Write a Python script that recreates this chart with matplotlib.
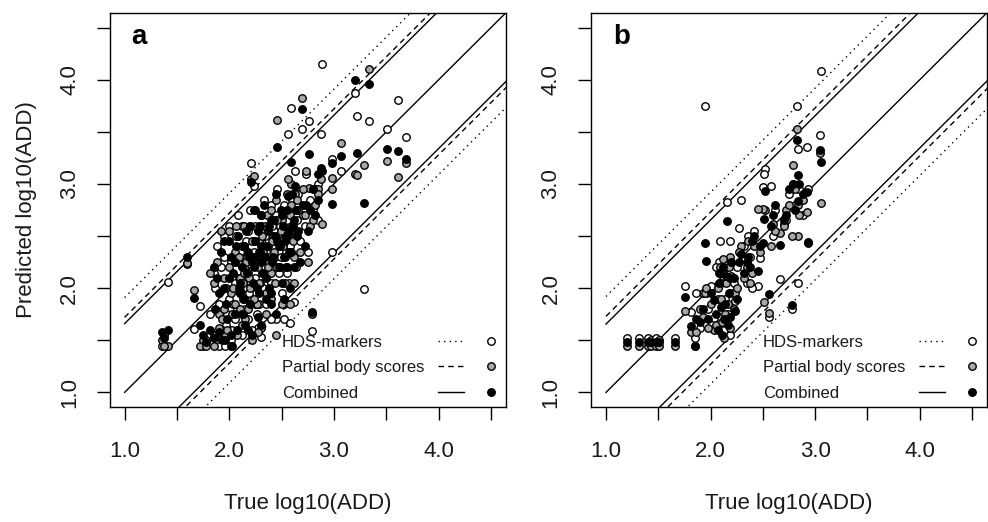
import numpy as np
import matplotlib
matplotlib.use("Agg")
import matplotlib.pyplot as plt

plt.rcParams['font.family'] = ['Liberation Sans', 'DejaVu Sans']

# ---- data: panel a (true, HDS-markers, partial body scores, combined) ----
a_true = [2.89, 2.88, 2.98, 2.98, 3.07, 3.20, 3.22, 3.29, 3.33, 3.51, 3.61, 3.69, 2.79, 2.85,
          2.69, 2.585, 2.46, 2.76, 2.56, 2.21, 2.24, 2.63, 2.73,
          1.41, 1.60, 1.36, 1.38, 1.66, 1.72, 1.75, 1.78, 1.85, 1.90, 1.96, 2.02,
          2.45, 2.52, 2.58, 2.62, 2.30, 2.27, 2.40,
          1.85, 1.88, 1.90, 1.92, 1.95, 1.97, 2.00, 2.00, 2.02, 2.05, 2.05, 2.08, 2.10, 2.10,
          2.12, 2.14, 2.15, 2.17, 2.18, 2.20, 2.20, 2.22, 2.23, 2.25, 2.25, 2.27, 2.28, 2.30,
          2.30, 2.32, 2.33, 2.35, 2.36, 2.38, 2.40, 2.40, 2.42, 2.44, 2.45, 2.47, 2.48, 2.50,
          2.50, 2.52, 2.53, 2.55, 2.57, 2.58, 2.60, 2.62, 2.64, 2.66, 2.68, 2.70, 2.72, 2.75,
          2.77, 2.80, 2.82, 2.85, 1.82, 1.86, 1.93, 1.98, 2.03, 2.07, 2.12, 2.18, 2.22, 2.13,
          2.26, 2.35, 2.16, 2.28, 2.38, 2.43, 2.06, 1.95, 2.55, 2.65,
          2.09, 2.19, 2.24, 2.31, 2.37, 2.41, 2.46, 2.51, 2.54, 2.59, 2.04, 2.14, 2.29, 2.34,
          2.49, 2.61]
a_hds = [4.15, 3.48, 3.24, 2.35, 3.12, 3.87, 3.65, 1.99, 3.60, 3.53, 3.81, 3.45, 1.59, 3.00,
         3.53, 3.725, 2.95, 3.60, 3.48, 3.20, 2.98, 3.12, 3.10,
         2.06, 2.23, 1.45, 1.55, 1.61, 1.83, 1.45, 1.50, 1.55, 1.45, 1.45, 1.50,
         1.70, 1.70, 1.67, 1.87, 1.53, 1.62, 1.70,
         2.15, 2.40, 1.85, 2.20, 2.30, 1.65, 2.60, 1.90, 2.25, 1.70, 2.05, 2.70, 2.35, 1.95,
         2.60, 2.20, 1.80, 2.00, 2.55, 2.30, 2.75, 1.90, 2.45, 2.10, 2.60, 2.25, 1.85, 2.70,
         2.45, 2.00, 2.85, 2.35, 2.15, 2.55, 2.05, 2.80, 2.45, 2.30, 2.70, 2.15, 2.60, 1.95,
         2.45, 2.80, 2.30, 2.65, 2.05, 2.40, 2.85, 2.55, 2.20, 2.90, 2.45, 2.70, 2.60, 2.35,
         2.85, 2.75, 2.95, 2.65, 1.75, 2.00, 1.60, 1.75, 1.60, 1.80, 1.55, 1.70, 1.60, 1.90,
         1.75, 1.85, 2.45, 2.60, 2.15, 2.55, 2.50, 2.50, 2.15, 2.65,
         2.10, 1.95, 2.35, 2.15, 2.40, 2.60, 2.20, 2.70, 2.35, 2.55, 1.85, 2.40, 2.05, 2.50,
         2.30, 2.75]
a_pbs = [2.62, 3.05, 3.06, 2.95, 3.39, 3.10, 3.09, 3.18, 4.10, 3.22, 3.07, 3.20, 1.75, 2.95,
         3.82, 3.00, 3.61, 2.96, 3.05, 3.05, 3.08, 2.90, 3.12,
         1.45, 2.24, 1.50, 1.45, 1.98, 1.45, 1.50, 1.45, 1.45, 1.62, 1.55, 1.45,
         1.55, 1.85, 1.85, 2.05, 1.62, 1.58, 1.90,
         2.05, 2.25, 1.75, 2.55, 1.80, 2.00, 2.55, 2.20, 1.95, 1.85, 2.35, 2.25, 2.10, 1.80,
         2.40, 2.60, 1.70, 2.30, 2.15, 2.00, 2.60, 2.45, 2.30, 1.85, 2.75, 2.20, 2.05, 2.40,
         2.60, 2.35, 2.55, 1.95, 2.70, 2.30, 2.15, 2.75, 2.50, 2.05, 2.85, 2.40, 2.20, 1.85,
         2.65, 2.55, 2.05, 2.90, 2.35, 2.70, 2.60, 2.30, 2.50, 2.75, 2.35, 2.95, 2.70, 2.25,
         2.60, 2.65, 2.80, 2.90, 2.15, 1.55, 1.70, 1.60, 1.75, 1.55, 1.65, 1.80, 1.50, 2.05,
         1.85, 1.75, 2.25, 2.45, 2.25, 2.35, 2.60, 2.10, 2.50, 2.85,
         2.30, 2.10, 1.90, 2.50, 2.20, 2.45, 2.65, 2.40, 2.20, 2.80, 2.00, 2.15, 2.35, 2.60,
         2.55, 2.45]
a_comb = [3.12, 3.15, 3.20, 2.81, 3.27, 4.00, 3.30, 2.82, 3.96, 3.34, 3.32, 3.24, 1.77, 3.10,
          3.72, 3.21, 3.35, 3.29, 2.88, 3.02, 2.75, 2.98, 2.80,
          1.60, 2.30, 1.58, 1.52, 1.91, 1.65, 1.55, 1.48, 1.52, 1.58, 1.50, 1.55,
          1.75, 1.90, 2.00, 2.20, 1.65, 1.72, 1.85,
          2.20, 2.10, 1.95, 2.35, 2.00, 1.85, 2.45, 2.10, 2.30, 1.75, 2.25, 2.50, 1.95, 2.05,
          2.20, 2.40, 1.65, 2.15, 2.35, 1.85, 2.60, 2.25, 2.05, 2.30, 2.45, 2.55, 1.95, 2.25,
          2.70, 2.15, 2.80, 2.10, 2.40, 2.60, 1.95, 2.65, 2.30, 2.50, 2.90, 2.20, 2.40, 2.05,
          2.70, 2.30, 2.45, 2.75, 2.55, 2.35, 2.90, 2.65, 2.75, 2.55, 2.25, 2.80, 2.40, 2.55,
          2.75, 2.95, 2.70, 2.85, 1.60, 1.80, 1.50, 1.70, 1.45, 1.60, 1.75, 1.60, 1.55, 1.75,
          2.00, 1.90, 2.55, 2.35, 2.00, 2.65, 2.40, 2.45, 2.20, 2.50,
          2.00, 2.30, 2.20, 2.40, 2.55, 2.25, 2.45, 2.60, 2.50, 2.35, 2.15, 1.90, 2.60, 2.30,
          2.75, 2.60]

# ---- data: panel b ----
b_true = [1.20, 1.32, 1.40, 1.43, 1.48, 1.51, 1.66, 1.85,
          1.95, 1.96, 3.06, 3.05, 2.825, 2.835, 2.92, 2.52, 2.51, 2.50, 2.58, 2.29, 2.27,
          2.16, 2.09, 2.19, 2.47, 2.45, 2.66, 2.84, 1.76, 2.56, 2.78, 2.03, 1.81, 2.79,
          2.70, 2.93, 2.85, 2.81,
          2.08, 2.10, 2.12, 2.14, 2.15, 2.17, 2.18, 2.20, 2.22, 2.23, 2.25, 2.05, 2.07, 2.11,
          2.13, 2.19, 1.98, 1.93, 1.90, 2.00, 2.35, 2.38, 2.40, 2.42, 2.36, 2.32, 2.60, 2.62,
          2.72, 2.75, 2.88, 1.86]
b_hds = [1.52, 1.52, 1.52, 1.50, 1.52, 1.50, 1.52, 1.52,
         3.75, 1.95, 4.08, 3.47, 3.75, 3.34, 3.35, 3.14, 3.10, 2.97, 2.98, 2.85, 2.58,
         2.83, 2.45, 2.45, 2.29, 2.02, 2.09, 2.05, 2.02, 1.72, 1.80, 1.71, 1.77, 3.00,
         2.62, 2.95, 2.95, 2.80,
         2.25, 2.05, 2.15, 1.90, 2.20, 1.75, 2.10, 1.95, 2.05, 1.88, 2.20, 2.20, 1.90, 1.58,
         1.60, 1.55, 1.80, 1.95, 1.62, 2.02, 2.05, 2.30, 2.00, 2.55, 2.50, 2.40, 2.50, 2.75,
         2.65, 2.90, 2.70, 1.95]
b_pbs = [1.45, 1.45, 1.45, 1.45, 1.45, 1.45, 1.45, 1.45,
         1.95, 2.00, 2.82, 3.30, 3.53, 2.80, 2.73, 2.75, 1.87, 2.76, 2.40, 2.40, 2.35,
         2.25, 2.20, 2.30, 2.35, 2.76, 2.53, 2.50, 1.78, 1.76, 2.50, 1.60, 1.58, 3.18,
         2.60, 2.43, 2.70, 2.95,
         2.15, 1.90, 2.28, 1.75, 2.05, 1.85, 2.20, 2.12, 1.80, 1.95, 2.00, 1.65, 2.00, 1.68,
         1.52, 1.62, 1.62, 1.72, 1.80, 1.85, 2.20, 2.05, 2.15, 2.40, 2.45, 2.10, 2.62, 2.55,
         2.75, 2.80, 2.85, 1.58]
b_comb = [1.48, 1.48, 1.48, 1.48, 1.48, 1.48, 1.48, 1.45,
          2.43, 2.26, 3.21, 3.33, 3.42, 3.09, 2.92, 2.93, 2.66, 2.43, 2.60, 2.33, 2.25,
          2.64, 2.15, 2.10, 2.40, 2.16, 2.41, 2.84, 1.92, 1.94, 1.84, 1.89, 1.64, 3.00,
          2.65, 2.44, 3.00, 2.75,
          2.05, 1.82, 2.20, 1.85, 2.12, 1.65, 1.95, 2.25, 2.10, 1.78, 1.90, 1.75, 1.60, 1.55,
          1.70, 1.72, 1.70, 1.80, 1.68, 1.95, 2.25, 2.20, 2.45, 2.50, 2.30, 2.15, 2.70, 2.80,
          2.70, 2.95, 2.90, 1.70]

# band offsets of the prediction intervals (HDS, partial, combined)
a_offsets = [0.91, 0.72, 0.66]
b_offsets = [0.92, 0.73, 0.655]

ticks = [1.0, 1.5, 2.0, 2.5, 3.0, 3.5, 4.0, 4.5]
tick_labels = ['1.0', '', '2.0', '', '3.0', '', '4.0', '']
legend_labels = ['HDS-markers', 'Partial body scores', 'Combined']

line_styles = [(0, (1, 3)), (0, (4, 3)), '-']
face_colors = ['white', '#a8a8a8', 'black']
text_col = '#1a1a1a'


def draw_panel(ax, true, series, offsets, letter):
    ax.set_xlim(0.86, 4.64)
    ax.set_ylim(0.86, 4.64)

    xs = np.array([1.0, 5.0])
    ax.plot(xs, xs, color='black', lw=1.0)
    for off, ls in zip(offsets, line_styles):
        ax.plot(xs, xs + off, color='black', lw=1.0, linestyle=ls)
        ax.plot(xs, xs - off, color='black', lw=1.0, linestyle=ls)

    for ys, fc in zip(series, face_colors):
        ax.scatter(true, ys, s=29, facecolors=fc, edgecolors='black',
                   linewidths=1.0, zorder=3)

    ax.set_xticks(ticks)
    ax.set_xticklabels(tick_labels)
    ax.set_yticks(ticks)
    ax.set_yticklabels(tick_labels, rotation=90, va='center')
    ax.tick_params(axis='both', direction='out', length=9.5, width=1.0,
                   labelsize=16, colors='black', labelcolor=text_col)
    ax.tick_params(axis='x', pad=15)
    ax.tick_params(axis='y', pad=12)
    for sp in ax.spines.values():
        sp.set_linewidth(1.0)

    ax.text(0.055, 0.94, letter, transform=ax.transAxes, fontsize=20,
            fontweight='bold', va='center', ha='left', color='black')

    # legend laid out like R's legend(): text, line sample, point sample
    row_y = [0.152, 0.089, 0.023]
    for lab, ls, fc, yy in zip(legend_labels, line_styles, face_colors, row_y):
        ax.text(0.434, yy, lab, transform=ax.transAxes, fontsize=12,
                va='baseline', ha='left', color=text_col)
        ax.plot([0.83, 0.895], [yy + 0.016, yy + 0.016], transform=ax.transAxes,
                color='black', lw=1.0, linestyle=ls)
        ax.scatter([0.962], [yy + 0.016], transform=ax.transAxes, s=29,
                   facecolors=fc, edgecolors='black', linewidths=1.0, clip_on=False)

    ax.set_xlabel('True log10(ADD)', fontsize=16, labelpad=22, color=text_col)


fig = plt.figure(figsize=(9.88, 5.22), dpi=100)
ax_a = fig.add_axes([0.1113, 0.2203, 0.4005, 0.7548])
ax_b = fig.add_axes([0.5985, 0.2203, 0.4002, 0.7548])

draw_panel(ax_a, a_true, [a_hds, a_pbs, a_comb], a_offsets, 'a')
draw_panel(ax_b, b_true, [b_hds, b_pbs, b_comb], b_offsets, 'b')
ax_a.set_ylabel('Predicted log10(ADD)', fontsize=16, labelpad=16, color=text_col)

fig.savefig('out.png', dpi=100)
